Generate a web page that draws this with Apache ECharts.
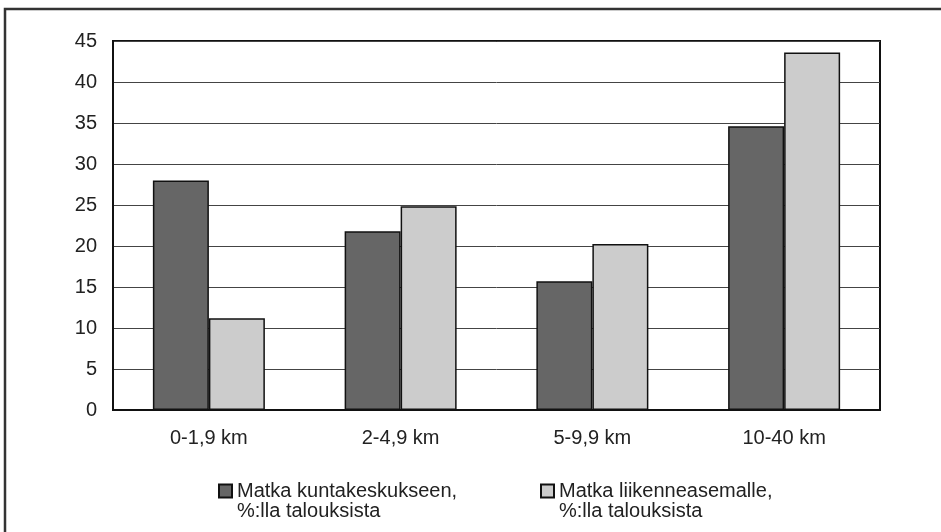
<!DOCTYPE html>
<html>
<head>
<meta charset="utf-8">
<script src="https://cdn.jsdelivr.net/npm/echarts@6/dist/echarts.min.js"></script>
<style>html,body{margin:0;padding:0;background:#fff}#c{width:941px;height:532px}</style>
</head>
<body>
<div id="c"></div>
<script>
const categories = ['0-1,9 km', '2-4,9 km', '5-9,9 km', '10-40 km'];
const seriesNames = ['Matka kuntakeskukseen,\n%:lla talouksista', 'Matka liikenneasemalle,\n%:lla talouksista'];
const kuntakeskus = [28.0, 21.8, 15.7, 34.6];
const liikenneasema = [11.2, 24.85, 20.25, 43.6];
const yTicks = { min: 0, max: 45, interval: 5 };

const chart = echarts.init(document.getElementById('c'), null, { renderer: 'canvas' });
const font = 'Liberation Sans, Arial, sans-serif';
const legendCommon = {
  orient: 'horizontal', top: 461, padding: 0, itemWidth: 13, itemHeight: 13, itemGap: 10,
  icon: 'rect',
  formatter: function (name) { return ' \n' + name; },
  textStyle: { fontFamily: font, fontSize: 20, color: '#222', lineHeight: 20 }
};
chart.setOption({
  animation: false,
  backgroundColor: '#fff',
  graphic: [{
    type: 'rect', shape: { x: 5, y: 9, width: 960, height: 560 },
    style: { fill: 'none', stroke: '#333', lineWidth: 2.5 }, silent: true, z: -1
  }],
  grid: { left: 113, right: 61, top: 41, bottom: 122, show: true, borderColor: '#111', borderWidth: 2, containLabel: false },
  legend: [
    Object.assign({}, legendCommon, { left: 218, data: [seriesNames[0]] }),
    Object.assign({}, legendCommon, { left: 540, data: [seriesNames[1]] })
  ],
  xAxis: {
    type: 'category', data: categories,
    axisLine: { lineStyle: { color: '#111', width: 2 } },
    axisTick: { show: false },
    axisLabel: { fontFamily: font, fontSize: 20, color: '#222', margin: 18 }
  },
  yAxis: {
    type: 'value', min: yTicks.min, max: yTicks.max, interval: yTicks.interval,
    axisLine: { show: true, lineStyle: { color: '#111', width: 2 } },
    axisTick: { show: false },
    splitLine: { lineStyle: { color: '#444', width: 1 } },
    axisLabel: { fontFamily: font, fontSize: 20, color: '#222', margin: 16 }
  },
  series: [
    { name: seriesNames[0], type: 'bar', data: kuntakeskus, barWidth: 56, barGap: '0%',
      itemStyle: { color: '#666666', borderColor: '#111', borderWidth: 1.5 } },
    { name: seriesNames[1], type: 'bar', data: liikenneasema, barWidth: 56, barGap: '0%',
      itemStyle: { color: '#cccccc', borderColor: '#111', borderWidth: 1.5 } }
  ]
});
</script>
</body>
</html>
